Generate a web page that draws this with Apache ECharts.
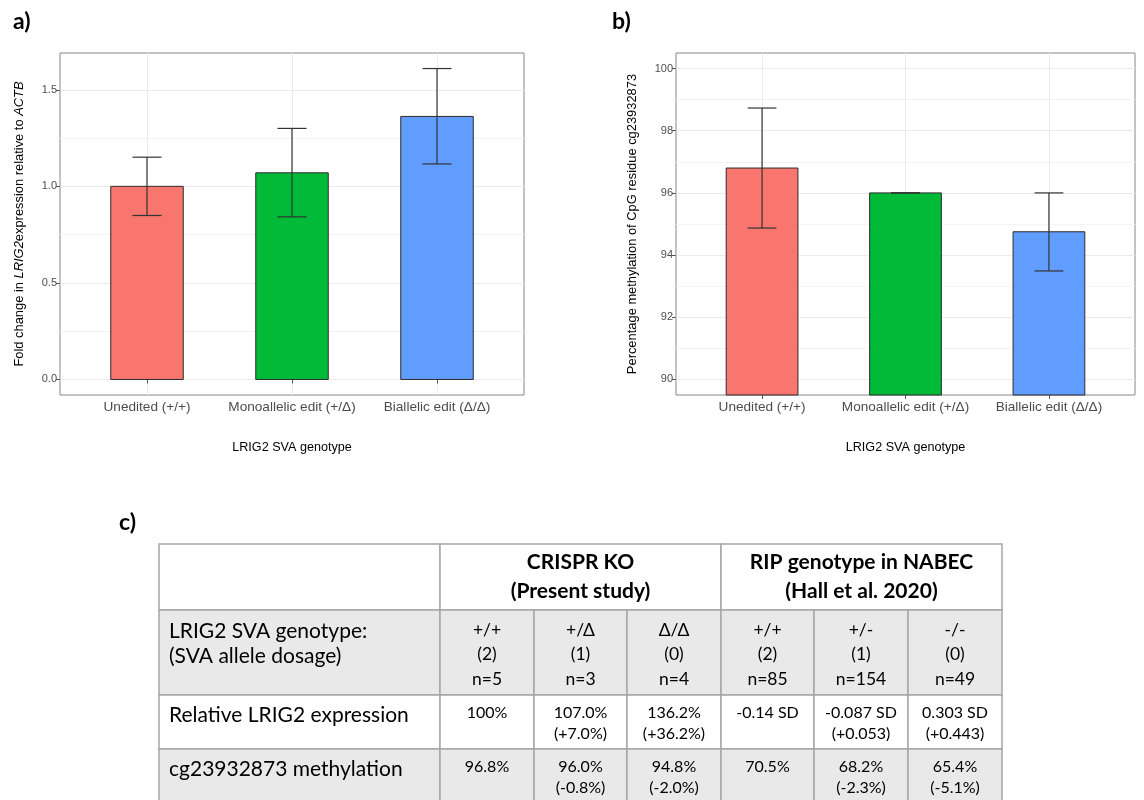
<!DOCTYPE html>
<html>
<head>
<meta charset="utf-8">
<script src="https://cdn.jsdelivr.net/npm/echarts@6.0.0/dist/echarts.min.js"></script>
<style>
  html, body { margin: 0; padding: 0; background: #fff; }
  #main { width: 1144px; height: 800px; }
</style>
</head>
<body>
<div id="main"></div>
<script>
// genotype categories (shared by a and b)
const genotypes = ['Unedited (+/+)', 'Monoallelic edit (+/Δ)', 'Biallelic edit (Δ/Δ)'];
const genotypePos = [1, 2, 3];

// a) fold change in LRIG2 expression
const foldChange = [1.0, 1.07, 1.362];
const foldLow = [0.849, 0.842, 1.116];
const foldHigh = [1.151, 1.30, 1.61];
const foldTicks = [0, 0.5, 1.0, 1.5];
const foldMinor = [0.25, 0.75, 1.25];

// b) methylation of cg23932873
const methylation = [96.8, 96.0, 94.75];
const methLow = [94.87, 96.0, 93.49];
const methHigh = [98.73, 96.0, 96.0];
const methTicks = [90, 92, 94, 96, 98, 100];
const methMinor = [91, 93, 95, 97, 99];

// c) table
const tableGroups = ['CRISPR KO\n(Present study)', 'RIP genotype in NABEC\n(Hall et al. 2020)'];
const rowLabels = ['LRIG2 SVA genotype:\n(SVA allele dosage)', 'Relative LRIG2 expression', 'cg23932873 methylation'];
const genotypeCells = ['+/+\n(2)\nn=5', '+/Δ\n(1)\nn=3', 'Δ/Δ\n(0)\nn=4', '+/+\n(2)\nn=85', '+/-\n(1)\nn=154', '-/-\n(0)\nn=49'];
const expressionCells = ['100%', '107.0%\n(+7.0%)', '136.2%\n(+36.2%)', '-0.14 SD', '-0.087 SD\n(+0.053)', '0.303 SD\n(+0.443)'];
const methylationCells = ['96.8%', '96.0%\n(-0.8%)', '94.8%\n(-2.0%)', '70.5%', '68.2%\n(-2.3%)', '65.4%\n(-5.1%)'];

const barColors = ['#F8766D', '#00BA38', '#619CFF'];
const chartFont = 'Liberation Sans';
const tableFont = 'Lato';

const foldRange = [-0.0805, 1.6905];
const methRange = [89.5, 100.5];

function barItem(axisMin) {
    return function (params, api) {
        const x = api.value(0), v = api.value(1);
        const base = Math.max(0, axisMin);
        const p1 = api.coord([x - 0.25, v]);
        const p2 = api.coord([x + 0.25, base]);
        return {
            type: 'rect',
            shape: { x: p1[0], y: p1[1], width: p2[0] - p1[0], height: p2[1] - p1[1] },
            style: { fill: barColors[params.dataIndex], stroke: '#2b2b2b', lineWidth: 1 }
        };
    };
}

function errorItem(params, api) {
    const x = api.value(0);
    const lo = api.coord([x, api.value(1)]);
    const hi = api.coord([x, api.value(2)]);
    const half = api.size([0.1, 0])[0];
    const style = { stroke: '#333', lineWidth: 1.2 };
    return {
        type: 'group',
        children: [
            { type: 'line', shape: { x1: lo[0], y1: lo[1], x2: hi[0], y2: hi[1] }, style: style },
            { type: 'line', shape: { x1: lo[0] - half, y1: lo[1], x2: lo[0] + half, y2: lo[1] }, style: style },
            { type: 'line', shape: { x1: hi[0] - half, y1: hi[1], x2: hi[0] + half, y2: hi[1] }, style: style }
        ]
    };
}

const xAxisBase = (gridIndex) => ({
    gridIndex: gridIndex,
    type: 'value',
    min: 0.4,
    max: 3.6,
    axisLine: { show: false },
    axisTick: { show: true, customValues: genotypePos, length: 4, lineStyle: { color: '#555' } },
    axisLabel: {
        customValues: genotypePos,
        formatter: v => genotypes[Math.round(v) - 1],
        fontSize: 13.6, color: '#4d4d4d', margin: 5, fontFamily: chartFont
    },
    splitLine: { show: true, lineStyle: { color: '#ebebeb', width: 1 } },
    name: 'LRIG2 SVA genotype',
    nameLocation: 'middle',
    nameGap: 46,
    nameTextStyle: { fontSize: 12.6, color: '#000', fontFamily: chartFont }
});

const yMajor = (gridIndex, range, ticks, digits, name, gap, rich) => ({
    gridIndex: gridIndex,
    type: 'value',
    min: range[0],
    max: range[1],
    axisLine: { show: false },
    axisTick: { show: true, customValues: ticks, length: 4, lineStyle: { color: '#555' } },
    axisLabel: {
        customValues: ticks,
        formatter: v => v.toFixed(digits),
        fontSize: 11, color: '#4d4d4d', margin: 3, fontFamily: chartFont
    },
    splitLine: { show: true, lineStyle: { color: '#ebebeb', width: 1 } },
    name: name,
    nameLocation: 'middle',
    nameGap: gap,
    nameTextStyle: { fontSize: 12.9, color: '#000', fontFamily: chartFont, rich: rich }
});

const yMinor = (gridIndex, range, minor) => ({
    gridIndex: gridIndex,
    type: 'value',
    position: 'left',
    min: range[0],
    max: range[1],
    axisLine: { show: false },
    axisTick: { show: false, customValues: minor },
    axisLabel: { show: false, customValues: minor },
    splitLine: { show: true, lineStyle: { color: '#f4f4f4', width: 1 } }
});

// table graphic
const colEdges = [159, 440, 534, 627, 721, 814, 908, 1002];
const rowEdges = [544, 610, 695, 749, 806];
const border = { stroke: '#a6a6a6', lineWidth: 1.5 };
const greyFill = '#e9e9e9';
const tableEls = [];

function cell(c0, c1, r, fill) {
    tableEls.push({
        type: 'rect',
        shape: { x: colEdges[c0], y: rowEdges[r], width: colEdges[c1] - colEdges[c0], height: rowEdges[r + 1] - rowEdges[r] },
        style: Object.assign({ fill: fill }, border),
        z: 1
    });
}
function label(text, x, y, opts) {
    tableEls.push({
        type: 'text',
        z: 2,
        style: Object.assign({ text: text, x: x, y: y, fill: '#000', fontFamily: tableFont }, opts)
    });
}

// header row
cell(0, 1, 0, '#fff');
tableGroups.forEach((g, i) => {
    const c0 = 1 + i * 3, c1 = c0 + 3;
    cell(c0, c1, 0, '#fff');
    label(g, (colEdges[c0] + colEdges[c1]) / 2, (rowEdges[0] + rowEdges[1]) / 2,
        { align: 'center', verticalAlign: 'middle', fontSize: 21, fontWeight: 'bold', lineHeight: 29 });
});
// body rows
const bodyRows = [genotypeCells, expressionCells, methylationCells];
const rowFills = [greyFill, '#fff', greyFill];
const labelLineHeights = [25, 22, 22];
bodyRows.forEach((vals, k) => {
    const r = k + 1;
    cell(0, 1, r, rowFills[k]);
    label(rowLabels[k], colEdges[0] + 10, rowEdges[r] + 9,
        { align: 'left', verticalAlign: 'top', fontSize: 21, lineHeight: labelLineHeights[k] });
    vals.forEach((v, j) => {
        cell(j + 1, j + 2, r, rowFills[k]);
        const cx = (colEdges[j + 1] + colEdges[j + 2]) / 2;
        if (k === 0) {
            label(v, cx, (rowEdges[r] + rowEdges[r + 1]) / 2 + 2,
                { align: 'center', verticalAlign: 'middle', fontSize: 17.5, lineHeight: 24.5 });
        } else {
            label(v, cx, rowEdges[r] + 7,
                { align: 'center', verticalAlign: 'top', fontSize: 16, lineHeight: 21.5 });
        }
    });
});

const panelLabels = [
    { text: 'a)', x: 13, y: 10 },
    { text: 'b)', x: 612, y: 10 },
    { text: 'c)', x: 119, y: 511 }
];
panelLabels.forEach(p => {
    tableEls.push({
        type: 'text', z: 2,
        style: { text: p.text, x: p.x, y: p.y, fontFamily: tableFont, fontWeight: 'bold', fontSize: 23, fill: '#000' }
    });
});

const chart = echarts.init(document.getElementById('main'));
chart.setOption({
    animation: false,
    backgroundColor: '#fff',
    grid: [
        { left: 60, top: 53, width: 464, height: 342, show: true, borderColor: '#888', borderWidth: 1, backgroundColor: 'transparent' },
        { left: 676, top: 53, width: 459, height: 342, show: true, borderColor: '#888', borderWidth: 1, backgroundColor: 'transparent' }
    ],
    xAxis: [xAxisBase(0), xAxisBase(1)],
    yAxis: [
        yMajor(0, foldRange, foldTicks, 1,
            '{n|Fold change in }{i|LRIG2}{n|expression relative to }{i|ACTB}', 34,
            { n: { fontSize: 12.9, fontFamily: chartFont, color: '#000' }, i: { fontSize: 12.9, fontFamily: chartFont, fontStyle: 'italic', color: '#000' } }),
        yMinor(0, foldRange, foldMinor),
        yMajor(1, methRange, methTicks, 0, 'Percentage methylation of CpG residue cg23932873', 37),
        yMinor(1, methRange, methMinor)
    ],
    series: [
        {
            type: 'custom', xAxisIndex: 0, yAxisIndex: 0, z: 2,
            encode: { x: 0, y: 1 },
            data: genotypePos.map((x, i) => [x, foldChange[i]]),
            renderItem: barItem(foldRange[0])
        },
        {
            type: 'custom', xAxisIndex: 0, yAxisIndex: 0, z: 3,
            encode: { x: 0, y: [1, 2] },
            data: genotypePos.map((x, i) => [x, foldLow[i], foldHigh[i]]),
            renderItem: errorItem
        },
        {
            type: 'custom', xAxisIndex: 1, yAxisIndex: 2, z: 2,
            encode: { x: 0, y: 1 },
            data: genotypePos.map((x, i) => [x, methylation[i]]),
            renderItem: barItem(methRange[0])
        },
        {
            type: 'custom', xAxisIndex: 1, yAxisIndex: 2, z: 3,
            encode: { x: 0, y: [1, 2] },
            data: genotypePos.map((x, i) => [x, methLow[i], methHigh[i]]),
            renderItem: errorItem
        }
    ],
    graphic: tableEls
});
</script>
</body>
</html>
